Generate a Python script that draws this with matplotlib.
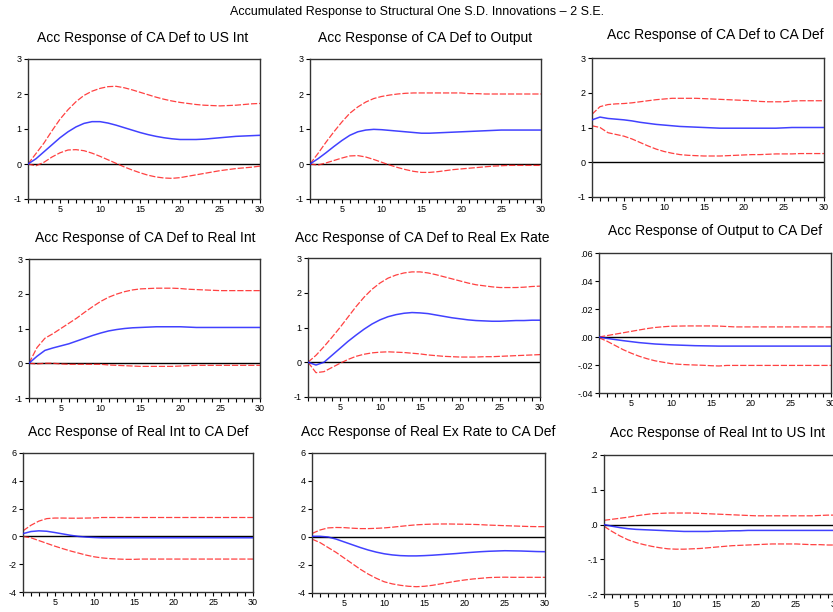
import numpy as np
import matplotlib
matplotlib.use("Agg")
import matplotlib.pyplot as plt
from matplotlib.ticker import MultipleLocator, FixedLocator, FuncFormatter
from matplotlib import font_manager

periods = list(range(1, 31))

# --- responses (point estimate, upper band, lower band) ---
us_int_mid = [0, 0.15, 0.35, 0.55, 0.75, 0.92, 1.06, 1.16, 1.21, 1.21, 1.17, 1.11, 1.04, 0.97, 0.90,
              0.84, 0.79, 0.75, 0.72, 0.70, 0.70, 0.70, 0.71, 0.73, 0.75, 0.77, 0.79, 0.80, 0.81, 0.82]
us_int_hi = [0, 0.30, 0.60, 0.95, 1.28, 1.55, 1.78, 1.96, 2.08, 2.16, 2.21, 2.22, 2.18, 2.12, 2.05,
             1.98, 1.91, 1.85, 1.80, 1.76, 1.73, 1.70, 1.68, 1.67, 1.66, 1.67, 1.68, 1.70, 1.72, 1.73]
us_int_lo = [0, -0.05, 0.05, 0.20, 0.32, 0.40, 0.41, 0.38, 0.31, 0.22, 0.12, 0.02, -0.08, -0.17, -0.25,
             -0.32, -0.37, -0.40, -0.41, -0.39, -0.35, -0.31, -0.27, -0.23, -0.19, -0.16, -0.13, -0.11, -0.09, -0.06]

output_mid = [0, 0.15, 0.32, 0.50, 0.67, 0.82, 0.92, 0.97, 0.99, 0.98, 0.96, 0.94, 0.92, 0.90, 0.88,
              0.88, 0.89, 0.90, 0.91, 0.92, 0.93, 0.94, 0.95, 0.96, 0.97, 0.97, 0.97, 0.97, 0.97, 0.97]
output_hi = [0, 0.30, 0.62, 0.92, 1.20, 1.45, 1.63, 1.77, 1.87, 1.93, 1.97, 2.00, 2.02, 2.03, 2.03,
             2.03, 2.03, 2.03, 2.03, 2.03, 2.01, 2.01, 2.00, 2.00, 2.00, 2.00, 2.00, 2.00, 2.00, 2.00]
output_lo = [0, -0.03, 0.03, 0.10, 0.17, 0.23, 0.24, 0.20, 0.13, 0.05, -0.03, -0.10, -0.16, -0.21, -0.24,
             -0.24, -0.22, -0.19, -0.16, -0.14, -0.12, -0.10, -0.08, -0.06, -0.05, -0.04, -0.04, -0.04, -0.04, -0.04]

cadef_mid = [1.22, 1.30, 1.26, 1.24, 1.22, 1.19, 1.15, 1.12, 1.09, 1.07, 1.05, 1.03, 1.02, 1.01, 1.00,
             0.99, 0.98, 0.98, 0.98, 0.98, 0.98, 0.98, 0.98, 0.98, 0.99, 1.00, 1.00, 1.00, 1.00, 1.00]
cadef_hi = [1.38, 1.60, 1.66, 1.68, 1.69, 1.71, 1.74, 1.77, 1.80, 1.82, 1.84, 1.84, 1.84, 1.84, 1.83,
            1.82, 1.81, 1.80, 1.79, 1.78, 1.77, 1.75, 1.74, 1.74, 1.74, 1.76, 1.77, 1.77, 1.77, 1.77]
cadef_lo = [1.05, 1.00, 0.85, 0.80, 0.75, 0.67, 0.57, 0.47, 0.38, 0.31, 0.26, 0.22, 0.20, 0.19, 0.18,
            0.18, 0.18, 0.19, 0.20, 0.21, 0.22, 0.22, 0.23, 0.24, 0.24, 0.24, 0.25, 0.25, 0.25, 0.25]

realint_mid = [0, 0.20, 0.37, 0.44, 0.50, 0.56, 0.64, 0.72, 0.80, 0.87, 0.93, 0.97, 1.00, 1.02, 1.03,
               1.04, 1.05, 1.05, 1.05, 1.05, 1.04, 1.03, 1.03, 1.03, 1.03, 1.03, 1.03, 1.03, 1.03, 1.03]
realint_hi = [0, 0.45, 0.72, 0.85, 1.00, 1.15, 1.30, 1.47, 1.63, 1.78, 1.90, 1.99, 2.06, 2.11, 2.14,
              2.15, 2.16, 2.16, 2.16, 2.15, 2.13, 2.12, 2.11, 2.10, 2.09, 2.09, 2.09, 2.09, 2.09, 2.09]
realint_lo = [0, -0.02, 0.00, 0.00, -0.02, -0.03, -0.03, -0.03, -0.03, -0.03, -0.05, -0.06, -0.07, -0.08, -0.09,
              -0.09, -0.09, -0.09, -0.09, -0.08, -0.07, -0.06, -0.06, -0.06, -0.06, -0.06, -0.06, -0.06, -0.06, -0.06]

rer_mid = [0, -0.08, 0.00, 0.20, 0.40, 0.60, 0.78, 0.95, 1.10, 1.22, 1.31, 1.37, 1.41, 1.43, 1.42,
           1.40, 1.36, 1.32, 1.28, 1.25, 1.22, 1.20, 1.19, 1.18, 1.18, 1.19, 1.20, 1.20, 1.21, 1.21]
rer_hi = [0, 0.20, 0.45, 0.72, 1.00, 1.30, 1.60, 1.87, 2.10, 2.28, 2.42, 2.51, 2.57, 2.60, 2.60,
          2.57, 2.52, 2.46, 2.40, 2.34, 2.28, 2.23, 2.20, 2.17, 2.15, 2.15, 2.15, 2.16, 2.18, 2.19]
rer_lo = [0, -0.30, -0.27, -0.15, -0.03, 0.08, 0.17, 0.23, 0.27, 0.29, 0.30, 0.29, 0.28, 0.26, 0.24,
          0.21, 0.19, 0.17, 0.16, 0.15, 0.15, 0.15, 0.16, 0.16, 0.17, 0.18, 0.19, 0.20, 0.21, 0.22]

out_ca_mid = [0, -0.001, -0.0018, -0.0026, -0.0033, -0.004, -0.0045, -0.005, -0.0053, -0.0056, -0.0058, -0.006,
              -0.0062, -0.0063, -0.0064, -0.0065, -0.0065, -0.0065, -0.0065, -0.0065, -0.0065, -0.0065, -0.0065,
              -0.0065, -0.0065, -0.0065, -0.0065, -0.0065, -0.0065, -0.0065]
out_ca_hi = [0, 0.001, 0.002, 0.003, 0.004, 0.005, 0.006, 0.0068, 0.0073, 0.0077, 0.0078, 0.0079, 0.0079, 0.0079,
             0.0079, 0.0078, 0.0075, 0.0072, 0.0072, 0.0072, 0.0072, 0.0072, 0.0072, 0.0072, 0.0072, 0.0072,
             0.0072, 0.0072, 0.0072, 0.0072]
out_ca_lo = [-0.0005, -0.003, -0.006, -0.009, -0.0115, -0.0137, -0.0155, -0.017, -0.018, -0.019, -0.0195, -0.0198,
             -0.020, -0.0202, -0.0205, -0.0207, -0.0203, -0.0203, -0.0203, -0.0203, -0.0203, -0.0203, -0.0203,
             -0.0203, -0.0203, -0.0203, -0.0203, -0.0203, -0.0203, -0.0203]

ri_ca_mid = [0.20, 0.35, 0.40, 0.37, 0.28, 0.18, 0.08, 0.00, -0.05, -0.08, -0.10, -0.10, -0.10, -0.10, -0.10,
             -0.10, -0.10, -0.10, -0.10, -0.10, -0.10, -0.10, -0.10, -0.10, -0.10, -0.10, -0.10, -0.10, -0.10, -0.10]
ri_ca_hi = [0.40, 0.80, 1.10, 1.28, 1.32, 1.32, 1.31, 1.31, 1.32, 1.33, 1.36, 1.36, 1.36, 1.36, 1.36,
            1.36, 1.36, 1.36, 1.36, 1.36, 1.36, 1.36, 1.36, 1.36, 1.36, 1.36, 1.36, 1.36, 1.36, 1.36]
ri_ca_lo = [0.00, -0.10, -0.30, -0.50, -0.70, -0.88, -1.05, -1.20, -1.35, -1.47, -1.55, -1.60, -1.63, -1.65, -1.65,
            -1.63, -1.63, -1.63, -1.63, -1.63, -1.63, -1.63, -1.63, -1.63, -1.63, -1.63, -1.63, -1.63, -1.63, -1.63]

rer_ca_mid = [0.05, 0.05, 0.00, -0.15, -0.35, -0.55, -0.75, -0.93, -1.08, -1.20, -1.28, -1.33, -1.35, -1.35, -1.33,
              -1.30, -1.26, -1.22, -1.18, -1.13, -1.09, -1.05, -1.02, -1.00, -0.98, -0.99, -1.00, -1.02, -1.04, -1.05]
rer_ca_hi = [0.25, 0.50, 0.65, 0.68, 0.67, 0.63, 0.60, 0.60, 0.62, 0.65, 0.70, 0.76, 0.82, 0.87, 0.90,
             0.92, 0.93, 0.93, 0.92, 0.91, 0.90, 0.88, 0.85, 0.83, 0.81, 0.79, 0.77, 0.75, 0.74, 0.74]
rer_ca_lo = [-0.15, -0.40, -0.75, -1.10, -1.50, -1.90, -2.30, -2.65, -2.95, -3.20, -3.35, -3.45, -3.52, -3.55, -3.52,
             -3.45, -3.35, -3.25, -3.15, -3.07, -3.00, -2.95, -2.90, -2.88, -2.87, -2.88, -2.88, -2.88, -2.88, -2.88]

ri_us_mid = [0.0, -0.005, -0.009, -0.012, -0.014, -0.015, -0.016, -0.017, -0.018, -0.019, -0.020, -0.020, -0.020,
             -0.020, -0.019, -0.019, -0.018, -0.018, -0.017, -0.017, -0.017, -0.017, -0.017, -0.017, -0.017,
             -0.017, -0.017, -0.017, -0.017, -0.017]
ri_us_hi = [0.012, 0.015, 0.018, 0.021, 0.025, 0.028, 0.031, 0.032, 0.033, 0.033, 0.033, 0.033, 0.032, 0.031, 0.030,
            0.029, 0.028, 0.027, 0.026, 0.025, 0.025, 0.025, 0.025, 0.025, 0.025, 0.025, 0.025, 0.026, 0.027, 0.027]
ri_us_lo = [-0.005, -0.020, -0.033, -0.044, -0.052, -0.058, -0.063, -0.067, -0.070, -0.071, -0.071, -0.070, -0.069,
            -0.067, -0.065, -0.063, -0.061, -0.060, -0.059, -0.058, -0.057, -0.056, -0.056, -0.056, -0.056, -0.057,
            -0.058, -0.058, -0.059, -0.059]

titles = ["Acc Response of CA Def to US Int", "Acc Response of CA Def to Output", "Acc Response of CA Def to CA Def",
          "Acc Response of CA Def to Real Int", "Acc Response of CA Def to Real Ex Rate", "Acc Response of Output to CA Def",
          "Acc Response of Real Int to CA Def", "Acc Response of Real Ex Rate to CA Def", "Acc Response of Real Int to US Int"]

W, H = 833, 612
fams = [f.name for f in font_manager.fontManager.ttflist]
narrow = "Liberation Sans Narrow" if "Liberation Sans Narrow" in fams else "Liberation Sans"
plt.rcParams['font.family'] = ['Liberation Sans', 'DejaVu Sans']
plt.rcParams['axes.unicode_minus'] = False

fig = plt.figure(figsize=(W / 100, H / 100), dpi=100)
fig.patch.set_facecolor('white')

# panel boxes in pixels: left, top, right, bottom
boxes = [(28, 59, 260, 199), (310, 59, 541, 199), (592, 58, 824, 197),
         (29, 259, 260, 398), (308, 258, 540, 397), (599, 253, 831, 393),
         (23, 453, 253, 592), (312, 453, 545, 593), (604, 455, 836, 594)]
title_pos = [(143, 38), (425, 38), (715, 35), (145, 238), (422, 238), (715, 231),
             (138, 432), (428, 432), (718, 433)]

series = [(us_int_mid, us_int_hi, us_int_lo), (output_mid, output_hi, output_lo), (cadef_mid, cadef_hi, cadef_lo),
          (realint_mid, realint_hi, realint_lo), (rer_mid, rer_hi, rer_lo), (out_ca_mid, out_ca_hi, out_ca_lo),
          (ri_ca_mid, ri_ca_hi, ri_ca_lo), (rer_ca_mid, rer_ca_hi, rer_ca_lo), (ri_us_mid, ri_us_hi, ri_us_lo)]

ylims = [(-1, 3)] * 5 + [(-0.04, 0.06)] + [(-4, 6)] * 2 + [(-0.2, 0.2)]
ysteps = [1] * 5 + [0.02] + [2, 2] + [0.1]


def dotfmt(ndec):
    def f(v, pos):
        s = f"{v:.{ndec}f}"
        if s.startswith("-0"):
            s = "-" + s[2:]
        elif s.startswith("0"):
            s = s[1:]
        return s
    return FuncFormatter(f)


for i in range(9):
    l, t, r, b = boxes[i]
    ax = fig.add_axes([l / W, 1 - b / H, (r - l) / W, (b - t) / H])
    mid, hi, lo = series[i]
    ax.axhline(0, color='black', lw=1.0, zorder=1)
    ax.plot(periods, hi, color='#ff2020', lw=0.9, ls=(0, (5, 1.5)), alpha=0.85, zorder=2)
    ax.plot(periods, lo, color='#ff2020', lw=0.9, ls=(0, (5, 1.5)), alpha=0.85, zorder=2)
    ax.plot(periods, mid, color='#2020ff', lw=1.1, alpha=0.85, zorder=3)
    ax.set_xlim(1, 30)
    ax.set_ylim(*ylims[i])
    ax.xaxis.set_major_locator(FixedLocator([5, 10, 15, 20, 25, 30]))
    ax.xaxis.set_minor_locator(MultipleLocator(1))
    ax.yaxis.set_major_locator(MultipleLocator(ysteps[i]))
    if i == 5:
        ax.yaxis.set_major_formatter(dotfmt(2))
    elif i == 8:
        ax.yaxis.set_major_formatter(dotfmt(1))
    ax.tick_params(axis='both', which='both', direction='out', length=3, width=0.8,
                   labelsize=6.5, pad=1.5, colors='black')
    for sp in ax.spines.values():
        sp.set_linewidth(1.0)
        sp.set_color('#333333')
    tx, ty = title_pos[i]
    fig.text(tx / W, 1 - ty / H, titles[i], ha='center', va='center', fontsize=10)

fig.text(417 / W, 1 - 12 / H, "Accumulated Response to Structural One S.D. Innovations \u2013 2 S.E.",
         ha='center', va='center', fontsize=9, family=[narrow, 'DejaVu Sans'])

fig.savefig("out.png", dpi=100)
